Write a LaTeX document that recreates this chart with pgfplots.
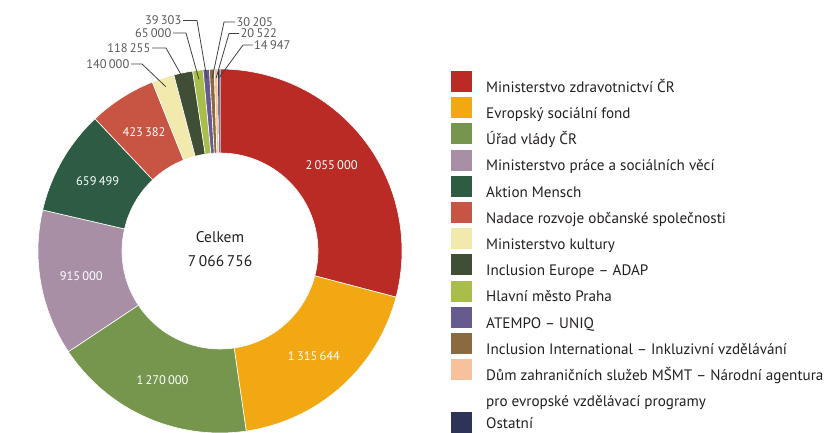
\documentclass[border=0pt]{standalone}
\usepackage{fontspec}
\setmainfont{PT Sans}
\usepackage{pgfplots}
\usepackage{pgfplotstable}
\pgfplotsset{compat=1.18}

\definecolor{c0}{HTML}{BA2B26}
\definecolor{c1}{HTML}{F2A813}
\definecolor{c2}{HTML}{76964E}
\definecolor{c3}{HTML}{A88FA6}
\definecolor{c4}{HTML}{2E5B44}
\definecolor{c5}{HTML}{C85544}
\definecolor{c6}{HTML}{F1EAAC}
\definecolor{c7}{HTML}{3F4E34}
\definecolor{c8}{HTML}{A8BD4A}
\definecolor{c9}{HTML}{665A8E}
\definecolor{c10}{HTML}{8B6A40}
\definecolor{c11}{HTML}{F7C19B}
\definecolor{c12}{HTML}{2E3458}
\definecolor{txt}{HTML}{231F20}
\definecolor{lbl}{HTML}{58595B}

\pgfplotstableread{
value
2055000
1315644
1270000
915000
659499
423382
140000
118255
65000
39303
30205
20522
14947
}\donut

\gdef\total{0}
\foreach \i in {0,...,12}{%
  \pgfplotstablegetelem{\i}{value}\of\donut
  \xdef\total{\fpeval{\total+\pgfplotsretval}}%
}
\gdef\cum{0}
\foreach \i in {0,...,12}{%
  \pgfplotstablegetelem{\i}{value}\of\donut
  \expandafter\xdef\csname s\i\endcsname{\fpeval{90-360*\cum/\total}}%
  \xdef\cum{\fpeval{\cum+\pgfplotsretval}}%
  \expandafter\xdef\csname e\i\endcsname{\fpeval{90-360*\cum/\total}}%
  \expandafter\xdef\csname m\i\endcsname{\fpeval{(\csname s\i\endcsname+\csname e\i\endcsname)/2}}%
  \expandafter\xdef\csname v\i\endcsname{\pgfplotsretval}%
}

\pgfkeys{/pgf/number format/.cd, fixed, precision=0, 1000 sep={\hspace{0.18em}}, assume math mode=true}

\begin{document}
\begin{tikzpicture}
\useasboundingbox (0,0) rectangle (834bp,433bp);
\clip (0,0) rectangle (834bp,433bp);
\begin{axis}[at={(0,0)}, anchor=south west, width=834bp, height=433bp,
  scale only axis, xmin=0, xmax=834, ymin=0, ymax=433, hide axis, clip=false]
\pgfplotsextra{%
  \foreach \i in {0,...,12}{%
    \edef\sa{\csname s\i\endcsname}%
    \edef\ea{\csname e\i\endcsname}%
    \fill[c\i, draw=white, line width=0.6bp]
      ([shift={(\sa:182bp)}]axis cs:220,182) arc[start angle=\sa, end angle=\ea, radius=182bp]
      -- ([shift={(\ea:98bp)}]axis cs:220,182) arc[start angle=\ea, end angle=\sa, radius=98bp] -- cycle;
  }
  \foreach \i in {0,...,5}{%
    \edef\ma{\csname m\i\endcsname}%
    \edef\vv{\csname v\i\endcsname}%
    \node[white, font=\fontsize{12.5}{14}\selectfont] at ([shift={(\ma:141bp)}]axis cs:220,182) {\pgfmathprintnumber{\vv}};
  }
  \foreach \i/\ex/\ey/\hx/\tx/\anc in {6/142/369/131/129.5/east, 7/166/385/152/150.5/east, 8/186/400/173/171.5/east, 9/197/412.5/183/181.5/east, 10/224/411/235/236.5/west, 11/229/399.5/239/240.5/west, 12/243/388/252.5/254/west}{%
    \edef\ma{\csname m\i\endcsname}%
    \edef\vv{\csname v\i\endcsname}%
    \draw[black!75, line width=0.8bp] ([shift={(\ma:173bp)}]axis cs:220,182) -- (axis cs:\ex,\ey) -- (axis cs:\hx,\ey);
    \node[lbl, anchor=\anc, inner sep=0pt, font=\fontsize{12.5}{14}\selectfont] at (axis cs:\tx,\ey) {\pgfmathprintnumber{\vv}};
  }
  \node[txt, font=\fontsize{15.5}{18}\selectfont] at (axis cs:220,196.3) {Celkem};
  \node[txt, font=\fontsize{15.5}{18}\selectfont] at (axis cs:220,172.3) {\pgfmathprintnumber{7066756}};
  \foreach \k/\name in {0/{Ministerstvo zdravotnictví ČR}, 1/{Evropský sociální fond}, 2/{Úřad vlády ČR}, 3/{Ministerstvo práce a sociálních věcí}, 4/{Aktion Mensch}, 5/{Nadace rozvoje občanské společnosti}, 6/{Ministerstvo kultury}, 7/{Inclusion Europe – ADAP}, 8/{Hlavní město Praha}, 9/{ATEMPO – UNIQ}, 10/{Inclusion International – Inkluzivní vzdělávání}, 11/{Dům zahraničních služeb MŠMT – Národní agentura}, 12/{pro evropské vzdělávací programy}, 13/{Ostatní}}{%
    \pgfmathsetmacro\ty{max(340.7-26.2*\k,4.5)}%
    \node[txt, anchor=base west, inner sep=0pt, font=\fontsize{15.2}{18}\selectfont] at (axis cs:486,\ty) {\name};
  }
  \foreach \k/\c in {0/c0,1/c1,2/c2,3/c3,4/c4,5/c5,6/c6,7/c7,8/c8,9/c9,10/c10,11/c11,13/c12}{%
    \pgfmathsetmacro\sy{362-26.2*\k}%
    \pgfmathsetmacro\sb{\sy-21}%
    \fill[\c] (axis cs:451,\sy) rectangle (axis cs:472,\sb);
  }
}
\end{axis}
\end{tikzpicture}
\end{document}
